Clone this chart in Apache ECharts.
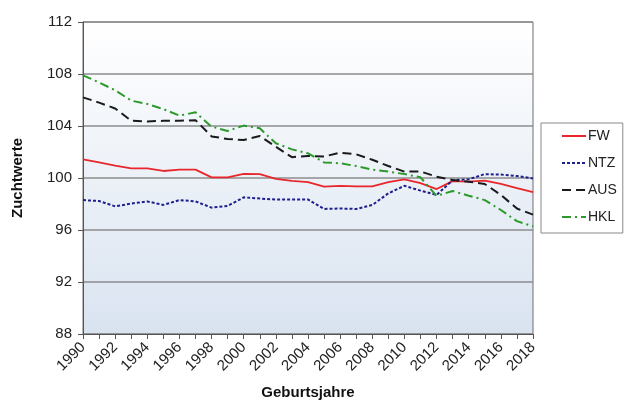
<!DOCTYPE html>
<html>
<head>
<meta charset="utf-8">
<script src="https://cdn.jsdelivr.net/npm/echarts@6/dist/echarts.min.js"></script>
<style>
  html, body { margin: 0; padding: 0; background: #ffffff; }
  #chart { width: 625px; height: 400px; }
</style>
</head>
<body>
<div id="chart"></div>
<script>
// Birth years 1990–2018
const years = [];
for (let y = 1990; y <= 2018; y++) years.push(String(y));

// Breeding values per birth year
const fw  = [101.43, 101.2, 100.95, 100.74, 100.74, 100.54, 100.64, 100.64, 100.05, 100.05,
             100.32, 100.3, 99.93, 99.78, 99.68, 99.33, 99.4, 99.35, 99.36, 99.69,
             99.9, 99.6, 99.15, 99.76, 99.72, 99.8, 99.54, 99.23, 98.92];
const ntz = [98.3, 98.23, 97.82, 98.03, 98.2, 97.93, 98.3, 98.2, 97.72, 97.85,
             98.51, 98.42, 98.34, 98.35, 98.35, 97.62, 97.65, 97.62, 97.92, 98.82,
             99.4, 99.03, 98.7, 99.83, 99.9, 100.3, 100.26, 100.15, 99.97];
const aus = [106.2, 105.8, 105.35, 104.4, 104.35, 104.4, 104.4, 104.45, 103.2, 103.0,
             102.92, 103.23, 102.4, 101.6, 101.7, 101.65, 101.95, 101.82, 101.4, 100.92,
             100.49, 100.5, 100.1, 99.85, 99.72, 99.54, 98.7, 97.65, 97.18];
const hkl = [107.9, 107.35, 106.75, 105.95, 105.7, 105.3, 104.8, 105.05, 103.95, 103.62,
             104.03, 103.82, 102.67, 102.2, 101.9, 101.2, 101.13, 100.92, 100.65, 100.49,
             100.3, 100.05, 98.62, 99.0, 98.64, 98.3, 97.54, 96.68, 96.28];

const yMin = 88, yMax = 112, yStep = 4;

const FONT = 'Liberation Sans, Arial, sans-serif';
const chart = echarts.init(document.getElementById('chart'), null, { renderer: 'canvas' });

function lineSeries(name, data, color, width, dash) {
  return {
    name: name,
    type: 'line',
    data: data,
    symbol: 'none',
    smooth: false,
    lineStyle: { color: color, width: width, type: dash },
    itemStyle: { color: color }
  };
}

chart.setOption({
  animation: false,
  backgroundColor: '#ffffff',
  textStyle: { fontFamily: FONT },
  grid: {
    left: 83, right: 92, top: 22, bottom: 66,
    outerBoundsMode: 'none',
    containLabel: false,
    show: true,
    borderColor: '#6f6f6f',
    borderWidth: 1,
    backgroundColor: {
      type: 'linear', x: 0, y: 0, x2: 0, y2: 1,
      colorStops: [
        { offset: 0, color: '#ffffff' },
        { offset: 1, color: '#d9e3f0' }
      ]
    }
  },
  legend: {
    orient: 'vertical',
    left: 541, top: 123,
    padding: [6, 6, 9, 20],
    itemGap: 13,
    itemWidth: 24,
    itemHeight: 14,
    itemStyle: { opacity: 0 },
    backgroundColor: '#ffffff',
    borderColor: '#8a8a8a',
    borderWidth: 1,
    textStyle: { fontFamily: FONT, fontSize: 14, color: '#222', padding: [0, 0, 0, -3] },
    data: ['FW', 'NTZ', 'AUS', 'HKL']
  },
  xAxis: {
    type: 'category',
    data: years,
    boundaryGap: false,
    name: 'Geburtsjahre',
    nameLocation: 'middle',
    nameGap: 51,
    nameTextStyle: { fontFamily: FONT, fontSize: 15, fontWeight: 'bold', color: '#111' },
    axisLine: { lineStyle: { color: '#555', width: 1 } },
    axisTick: { show: true, interval: 0, length: 5, lineStyle: { color: '#555' } },
    axisLabel: {
      interval: 1,
      rotate: 45,
      fontSize: 15,
      color: '#222',
      margin: 11,
      fontFamily: FONT
    },
    splitLine: { show: false }
  },
  yAxis: {
    type: 'value',
    min: yMin, max: yMax, interval: yStep,
    name: 'Zuchtwerte',
    nameLocation: 'middle',
    nameGap: 58,
    nameTextStyle: { fontFamily: FONT, fontSize: 15, fontWeight: 'bold', color: '#111' },
    axisLine: { show: true, lineStyle: { color: '#555', width: 1 } },
    axisTick: { show: true, length: 5, lineStyle: { color: '#555' } },
    axisLabel: { fontSize: 15, color: '#222', margin: 11, fontFamily: FONT },
    splitLine: { show: true, lineStyle: { color: '#8c8c8c', width: 1.5 } }
  },
  series: [
    lineSeries('FW',  fw,  '#e8262b', 1.8, 'solid'),
    lineSeries('NTZ', ntz, '#1d1f8c', 2,   [3, 2]),
    lineSeries('AUS', aus, '#1a1a1a', 2,   [9, 5]),
    lineSeries('HKL', hkl, '#2b9a2b', 2,   [9, 4, 2, 4])
  ]
});
</script>
</body>
</html>
